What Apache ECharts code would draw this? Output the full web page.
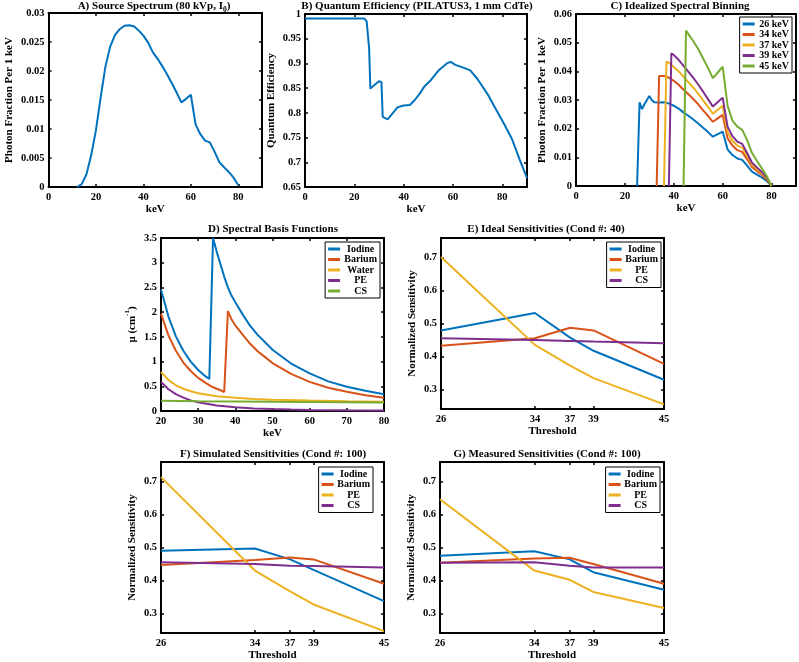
<!DOCTYPE html>
<html>
<head>
<meta charset="utf-8">
<script src="https://cdn.jsdelivr.net/npm/echarts@6/dist/echarts.min.js"></script>
<style>
html, body { margin: 0; padding: 0; background: #fff; }
#chart { width: 799px; height: 662px; }
</style>
</head>
<body>
<div id="chart"></div>
<script>
// matlab default colour order
const C1 = '#0072BD', C2 = '#D95319', C3 = '#EDB120', C4 = '#7E2F8E', C5 = '#77AC30';

// A) source spectrum, [keV, fraction]
const srcSpectrum = [[12,0],[14,0.0005],[16,0.0022],[18,0.0055],[20,0.0098],[22,0.0155],[24,0.0208],[26,0.0242],
  [28,0.0262],[30,0.0272],[32,0.0278],[34,0.0279],[36,0.0277],[38,0.0270],[40,0.0261],[42,0.0249],[44,0.0232],
  [46,0.0221],[48,0.0208],[50,0.0194],[52,0.0179],[54,0.0163],[56,0.0146],[58,0.0152],[60,0.0159],[62,0.0108],
  [64,0.0091],[66,0.0080],[68,0.0077],[70,0.0061],[72,0.0043],[74,0.0034],[76,0.0026],[78,0.0016],[80,0.0003]];

// B) quantum efficiency
const qeCurve = [[0,0.991],[24,0.991],[25,0.985],[26,0.93],[26.5,0.849],[28,0.856],[30,0.864],[31,0.862],[31.5,0.792],
  [32,0.789],[33.5,0.787],[35.5,0.799],[37.5,0.811],[40,0.815],[42.5,0.816],[44.5,0.826],[46.5,0.839],[48.5,0.854],
  [51,0.866],[54,0.885],[57.5,0.9],[59,0.903],[61,0.897],[65,0.89],[67,0.886],[70,0.868],[74,0.838],[77,0.811],
  [81,0.775],[84,0.746],[87,0.706],[90,0.668]];

// C) spectral bins per threshold
const bin26 = [[25,0],[26,0.0292],[27,0.0268],[28,0.0285],[29,0.0300],[30,0.0314],[31,0.0300],[32,0.0292],[34,0.0291],
  [36,0.0292],[38,0.0288],[40,0.0280],[42,0.0270],[44,0.0256],[46,0.0245],[48,0.0232],[50,0.0218],[52,0.0203],
  [54,0.0188],[56,0.0172],[58,0.0181],[60,0.0190],[62,0.0128],[64,0.0108],[66,0.0096],[68,0.0091],[70,0.0071],
  [72,0.0050],[74,0.0040],[76,0.0030],[78,0.0018],[80,0]];
const bin34 = [[33,0],[34,0.0384],[36,0.0384],[38,0.0378],[40,0.0367],[42,0.0353],[44,0.0336],[46,0.0320],[48,0.0303],
  [50,0.0285],[52,0.0264],[54,0.0245],[56,0.0224],[58,0.0236],[60,0.0248],[62,0.0167],[64,0.0141],[66,0.0125],
  [68,0.0119],[70,0.0093],[72,0.0066],[74,0.0052],[76,0.0039],[78,0.0023],[80,0]];
const bin37 = [[36,0],[37,0.0434],[38,0.0430],[40,0.0415],[42,0.0400],[44,0.0381],[46,0.0362],[48,0.0343],[50,0.0322],
  [52,0.0299],[54,0.0276],[56,0.0252],[58,0.0266],[60,0.0280],[62,0.0188],[64,0.0158],[66,0.0141],[68,0.0134],
  [70,0.0105],[72,0.0074],[74,0.0059],[76,0.0044],[78,0.0026],[80,0]];
const bin39 = [[38,0],[39,0.0463],[40,0.0457],[42,0.0440],[44,0.0419],[46,0.0398],[48,0.0377],[50,0.0354],[52,0.0329],
  [54,0.0303],[56,0.0277],[58,0.0293],[60,0.0308],[62,0.0207],[64,0.0174],[66,0.0155],[68,0.0147],[70,0.0115],
  [72,0.0081],[74,0.0065],[76,0.0049],[78,0.0029],[80,0]];
const bin45 = [[44,0],[45,0.0542],[46,0.0530],[48,0.0505],[50,0.0478],[52,0.0445],[54,0.0412],[56,0.0376],[58,0.0396],
  [60,0.0416],[62,0.0280],[64,0.0228],[66,0.0207],[68,0.0196],[70,0.0160],[72,0.0115],[74,0.0088],[76,0.0062],
  [78,0.0035],[80,0]];

// D) basis functions, mu in 1/cm
const muIodine = [[20,2.46],[22,1.91],[24,1.51],[26,1.22],[28,1.00],[30,0.83],[32,0.70],[33,0.65],[34,3.50],[35,3.22],
  [36,2.97],[37,2.72],[38,2.50],[39,2.33],[40,2.20],[42,1.95],[44,1.72],[46,1.54],[48,1.39],[50,1.24],[55,0.96],
  [60,0.76],[65,0.60],[70,0.49],[75,0.41],[80,0.34]];
const muBarium = [[20,1.97],[22,1.53],[24,1.22],[26,0.98],[28,0.81],[30,0.67],[32,0.57],[34,0.48],[36,0.42],[37,0.385],
  [38,2.02],[39,1.85],[40,1.73],[42,1.54],[44,1.36],[46,1.21],[48,1.09],[50,0.97],[55,0.75],[60,0.59],[65,0.47],
  [70,0.39],[75,0.32],[80,0.27]];
const muWater = [[20,0.79],[22,0.63],[24,0.52],[26,0.45],[28,0.40],[30,0.36],[35,0.30],[40,0.27],[45,0.245],[50,0.23],
  [60,0.21],[70,0.195],[80,0.185]];
const muPE = [[20,0.59],[22,0.44],[24,0.34],[26,0.27],[28,0.215],[30,0.175],[35,0.11],[40,0.074],[45,0.052],[50,0.038],
  [55,0.028],[60,0.022],[70,0.014],[80,0.009]];
const muCS = [[20,0.205],[30,0.198],[40,0.192],[50,0.186],[60,0.181],[70,0.177],[80,0.172]];

// E/F/G) sensitivities vs threshold
const thresholds = [26, 34, 37, 39, 45];
const idealIodine = [0.479, 0.532, 0.457, 0.417, 0.329];
const idealBarium = [0.432, 0.455, 0.487, 0.479, 0.377];
const idealPE     = [0.702, 0.435, 0.372, 0.334, 0.254];
const idealCS     = [0.455, 0.450, 0.447, 0.445, 0.440];
const simIodine = [0.490, 0.497, 0.464, 0.432, 0.337];
const simBarium = [0.447, 0.462, 0.470, 0.464, 0.390];
const simPE     = [0.714, 0.430, 0.367, 0.327, 0.246];
const simCS     = [0.455, 0.450, 0.445, 0.444, 0.439];
const measIodine = [0.475, 0.489, 0.464, 0.425, 0.372];
const measBarium = [0.454, 0.467, 0.469, 0.450, 0.390];
const measPE     = [0.647, 0.430, 0.402, 0.365, 0.316];
const measCS     = [0.454, 0.455, 0.445, 0.439, 0.439];

const keVTicks = [0, 20, 40, 60, 80];
const FONT = 'Liberation Serif';
const bold = { fontFamily: FONT, fontWeight: 'bold', color: '#000' };

const grids = [], xAxes = [], yAxes = [], titles = [], legends = [], series = [];

function panel(box, xr, yr, xt, yt, xName, yName, yGap, xGap) {
  const i = grids.length;
  grids.push({ left: box[0], top: box[1], width: box[2], height: box[3] });
  const line = { show: true, onZero: false, lineStyle: { color: '#000', width: 2 } };
  const tick = (vals) => ({ show: true, inside: true, length: 3, customValues: vals, lineStyle: { color: '#000', width: 1.5 } });
  const lab = (vals, m) => ({ customValues: vals, margin: m, fontSize: 10.5, ...bold });
  const nameStyle = { fontSize: 11, lineHeight: 16, ...bold,
    rich: { sup: { fontSize: 7, lineHeight: 8, verticalAlign: 'top', ...bold } } };
  xAxes.push({ type: 'value', gridIndex: i, min: xr[0], max: xr[1], position: 'bottom', splitLine: { show: false },
    axisLine: line, axisTick: tick(xt), axisLabel: lab(xt, 5),
    name: xName, nameLocation: 'middle', nameGap: xGap, nameTextStyle: { fontSize: 11, ...bold } });
  xAxes.push({ type: 'value', gridIndex: i, min: xr[0], max: xr[1], position: 'top', splitLine: { show: false },
    axisLine: line, axisTick: tick(xt), axisLabel: { show: false } });
  yAxes.push({ type: 'value', gridIndex: i, min: yr[0], max: yr[1], position: 'left', splitLine: { show: false },
    axisLine: line, axisTick: tick(yt), axisLabel: lab(yt, 4),
    name: yName, nameLocation: 'middle', nameGap: yGap, nameTextStyle: nameStyle });
  yAxes.push({ type: 'value', gridIndex: i, min: yr[0], max: yr[1], position: 'right', splitLine: { show: false },
    axisLine: line, axisTick: tick(yt), axisLabel: { show: false } });
  return 2 * i;
}

function addLine(ax, name, color, data) {
  series.push({ type: 'line', name: name, xAxisIndex: ax, yAxisIndex: ax, data: data, showSymbol: false,
    lineStyle: { color: color, width: 2 }, itemStyle: { color: color }, silent: true, animation: false });
}

function addTitle(text, cx, cy) {
  titles.push({ text: text, left: cx, top: cy, textAlign: 'center', textVerticalAlign: 'middle', padding: 0,
    textStyle: { fontSize: 11, lineHeight: 16, ...bold,
      rich: { sub: { fontSize: 7.5, lineHeight: 8, verticalAlign: 'bottom', ...bold } } } });
}

function addLegend(items, right, top, w) {
  legends.push({ orient: 'vertical', right: right, top: top, icon: 'rect', itemWidth: 12, itemHeight: 3, itemGap: 0.5,
    itemTextGap: 2, padding: [2, 3], borderColor: '#000', borderWidth: 1, backgroundColor: '#fff', selectedMode: false,
    formatter: '{c|{name}}',
    textStyle: { fontSize: 10, ...bold, rich: { c: { width: w, align: 'center', fontSize: 10, lineHeight: 10, ...bold } } },
    data: items.map(d => ({ name: d[0], itemStyle: { color: d[1] } })) });
}

const pairs = (ys) => thresholds.map((t, k) => [t, ys[k]]);

// A
let ax = panel([39, 13, 223, 174], [0, 90], [0, 0.03], keVTicks, [0, 0.005, 0.01, 0.015, 0.02, 0.025, 0.03],
  'keV', 'Photon Fraction Per 1 keV', 26, 15);
addLine(ax, 'src', C1, srcSpectrum);
addTitle('A) Source Spectrum (80 kVp, I{sub|0})', 154, 6);

// B
ax = panel([305, 14, 222, 173], [0, 90], [0.65, 1], keVTicks, [0.65, 0.7, 0.75, 0.8, 0.85, 0.9, 0.95, 1],
  'keV', 'Quantum Efficiency', 23, 15);
addLine(ax, 'qe', C1, qeCurve);
addTitle('B) Quantum Efficiency (PILATUS3, 1 mm CdTe)', 417, 6);

// C
ax = panel([576, 14, 220, 172], [0, 90], [0, 0.06], keVTicks, [0, 0.01, 0.02, 0.03, 0.04, 0.05, 0.06],
  'keV', 'Photon Fraction Per 1 keV', 25, 15);
addLine(ax, '26 keV', C1, bin26);
addLine(ax, '34 keV', C2, bin34);
addLine(ax, '37 keV', C3, bin37);
addLine(ax, '39 keV', C4, bin39);
addLine(ax, '45 keV', C5, bin45);
addTitle('C) Idealized Spectral Binning', 680, 6);
addLegend([['26 keV', C1], ['34 keV', C2], ['37 keV', C3], ['39 keV', C4], ['45 keV', C5]], 799 - 792, 17, 29);

// D
ax = panel([161, 238, 223, 173], [20, 80], [0, 3.5], [20, 30, 40, 50, 60, 70, 80], [0, 0.5, 1, 1.5, 2, 2.5, 3, 3.5],
  'keV', 'μ (cm{sup|-1})', 16, 12);
addLine(ax, 'Iodine', C1, muIodine);
addLine(ax, 'Barium', C2, muBarium);
addLine(ax, 'Water', C3, muWater);
addLine(ax, 'PE', C4, muPE);
addLine(ax, 'CS', C5, muCS);
addTitle('D) Spectral Basis Functions', 273, 229);
addLegend([['Iodine', C1], ['Barium', C2], ['Water', C3], ['PE', C4], ['CS', C5]], 799 - 380, 242, 31);

// E, F, G
const sensTicks = [0.3, 0.4, 0.5, 0.6, 0.7];
const sensPanels = [
  [[441, 238, 223, 171], 'E) Ideal Sensitivities (Cond #: 40)', 546, 229, idealIodine, idealBarium, idealPE, idealCS, 799 - 661, 242, 14],
  [[161, 462, 223, 174], 'F) Simulated Sensitivities (Cond #: 100)', 273, 454, simIodine, simBarium, simPE, simCS, 799 - 373, 467, 15],
  [[440, 462, 224, 174], 'G) Measured Sensitivities (Cond #: 100)', 547, 454, measIodine, measBarium, measPE, measCS, 799 - 660, 467, 15]
];
sensPanels.forEach(p => {
  const a = panel(p[0], [26, 45], [0.24, 0.76], thresholds, sensTicks, 'Threshold', 'Normalized Sensitivity', 19, p[10]);
  addLine(a, 'Iodine', C1, pairs(p[4]));
  addLine(a, 'Barium', C2, pairs(p[5]));
  addLine(a, 'PE', C3, pairs(p[6]));
  addLine(a, 'CS', C4, pairs(p[7]));
  addTitle(p[1], p[2], p[3]);
  addLegend([['Iodine', C1], ['Barium', C2], ['PE', C3], ['CS', C4]], p[8], p[9], 30);
});

const chart = echarts.init(document.getElementById('chart'), null, { renderer: 'canvas' });
chart.setOption({
  animation: false,
  backgroundColor: '#fff',
  title: titles,
  legend: legends,
  grid: grids,
  xAxis: xAxes,
  yAxis: yAxes,
  series: series
});
</script>
</body>
</html>
